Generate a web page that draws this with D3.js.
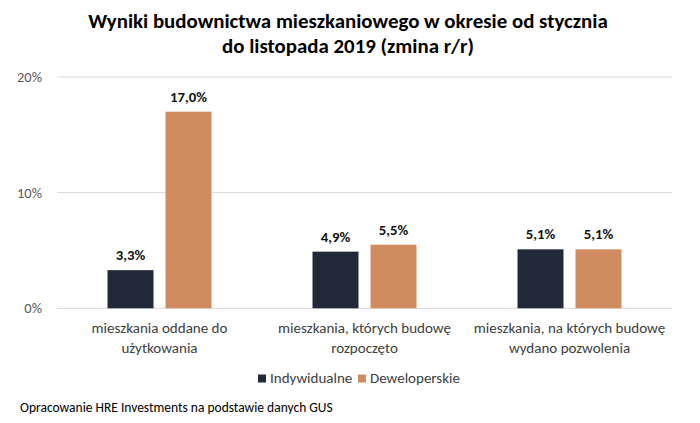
<!DOCTYPE html>
<html>
<head>
<meta charset="utf-8">
<script src="https://cdn.jsdelivr.net/npm/d3@7"></script>
<style>
  html, body { margin: 0; padding: 0; background: #fff; }
  svg { display: block; font-family: Carlito, Lato, sans-serif; }
</style>
</head>
<body>
<svg id="chart" width="700" height="423"></svg>
<script>
const titleLines = ["Wyniki budownictwa mieszkaniowego w okresie od stycznia", "do listopada 2019 (zmina r/r)"];
const categories = ["mieszkania oddane do użytkowania", "mieszkania, których budowę rozpoczęto", "mieszkania, na których budowę wydano pozwolenia"];
const categoryLines = [["mieszkania oddane do", "użytkowania"], ["mieszkania, których budowę", "rozpoczęto"], ["mieszkania, na których budowę", "wydano pozwolenia"]];
const seriesNames = ["Indywidualne", "Deweloperskie"];
const indywidualne = [3.3, 4.9, 5.1];
const deweloperskie = [17.0, 5.5, 5.1];
const yTicks = [0, 10, 20];
const footer = "Opracowanie HRE Investments na podstawie danych GUS";

const colors = ["#222a3a", "#d08b5e"];
const svg = d3.select("#chart");

// helper: fit font size so a text reaches a target width
function fitSize(text, weight, target) {
  const t = svg.append("text").attr("font-size", 100).attr("font-weight", weight).text(text);
  const w = t.node().getComputedTextLength();
  t.remove();
  return 100 * target / w;
}

const x0 = d3.scaleBand().domain(categories).range([57, 672]).padding(0);
const x1 = d3.scaleBand().domain(seriesNames).range([50.5, 154.5]).paddingInner(0.207).paddingOuter(0);
const y = d3.scaleLinear().domain([0, 20]).range([308.3, 77]);

// gridlines
svg.append("g").selectAll("line").data(yTicks).join("line")
  .attr("x1", 57).attr("x2", 672)
  .attr("y1", d => y(d)).attr("y2", d => y(d))
  .attr("stroke", "#d9d9d9").attr("stroke-width", 1);

// y axis labels
const tickSize = fitSize("20%", 400, 25);
const yAxis = d3.axisLeft(y).tickValues(yTicks).tickFormat(d => d + "%").tickSize(0).tickPadding(0);
const yg = svg.append("g").attr("transform", "translate(42,0)").call(yAxis);
yg.select(".domain").remove();
yg.selectAll("text").attr("font-size", tickSize).attr("fill", "#595959").attr("font-family", "Carlito, Lato, sans-serif");

// bars
const data = categories.map((c, i) => ({ cat: c, vals: [indywidualne[i], deweloperskie[i]] }));
const valSize = fitSize("17,0%", 700, 37);
const groups = svg.append("g").selectAll("g").data(data).join("g")
  .attr("transform", d => `translate(${x0(d.cat)},0)`);
groups.selectAll("rect").data(d => d.vals.map((v, j) => ({ s: seriesNames[j], v, j }))).join("rect")
  .attr("x", d => x1(d.s)).attr("width", x1.bandwidth())
  .attr("y", d => y(d.v)).attr("height", d => y(0) - y(d.v))
  .attr("fill", d => colors[d.j]);
groups.selectAll("text.val").data(d => d.vals.map((v, j) => ({ s: seriesNames[j], v, j }))).join("text")
  .attr("class", "val")
  .attr("x", d => x1(d.s) + x1.bandwidth() / 2)
  .attr("y", d => y(d.v) - 10)
  .attr("text-anchor", "middle")
  .attr("font-weight", 700).attr("font-size", valSize).attr("fill", "#111")
  .text(d => d.v.toFixed(1).replace(".", ",") + "%");

// category labels
const catSize = fitSize("mieszkania oddane do", 400, 136);
categoryLines.forEach((lines, i) => {
  const cx = x0(categories[i]) + x0.bandwidth() / 2;
  lines.forEach((ln, k) => {
    svg.append("text").attr("x", cx).attr("y", 333 + k * 20)
      .attr("text-anchor", "middle").attr("font-size", catSize).attr("fill", "#404040")
      .text(ln);
  });
});

// legend
const legSize = fitSize("Deweloperskie", 400, 90);
const legX = [258, 358];
seriesNames.forEach((s, i) => {
  svg.append("rect").attr("x", legX[i]).attr("y", 374.5).attr("width", 8).attr("height", 8).attr("fill", colors[i]);
  svg.append("text").attr("x", legX[i] + 12).attr("y", 383).attr("font-size", legSize).attr("fill", "#404040").text(s);
});

// title
const titleSize = fitSize(titleLines[0], 700, 520);
titleLines.forEach((t, k) => {
  svg.append("text").attr("x", 348).attr("y", 28 + k * 25)
    .attr("text-anchor", "middle").attr("font-weight", 700).attr("font-size", titleSize).attr("fill", "#000")
    .text(t);
});

// footer
const footSize = fitSize(footer, 400, 313);
svg.append("text").attr("x", 20).attr("y", 412).attr("font-size", footSize).attr("fill", "#000").text(footer);
</script>
</body>
</html>
